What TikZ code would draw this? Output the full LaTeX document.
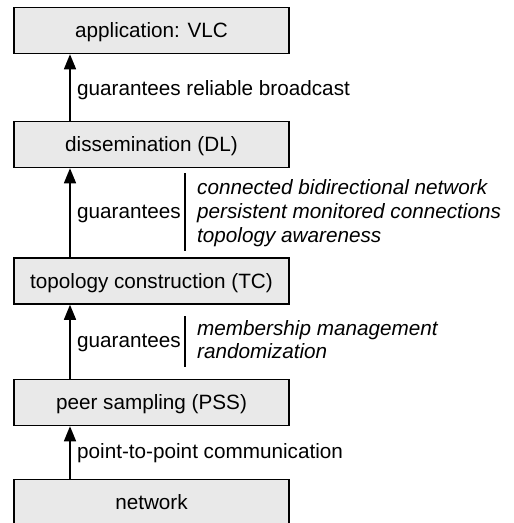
\documentclass[tikz,border=0pt]{standalone}
\usepackage{fontspec}
\setmainfont{Liberation Sans}
\usetikzlibrary{arrows.meta}
\definecolor{boxfill}{RGB}{233,233,233}
\tikzset{
  layer/.style={draw=black, line width=1.5pt, fill=boxfill, minimum width=275pt, minimum height=46pt, inner sep=0pt, text height=14.8pt, text depth=0pt, font=\fontsize{20.7}{24}\selectfont},
  lbl/.style={anchor=base west, inner sep=0pt, font=\fontsize{20.7}{24}\selectfont},
  ilbl/.style={anchor=base west, inner sep=0pt, font=\fontsize{20.7}{24}\selectfont\itshape},
  up/.style={line width=1.5pt, -{Triangle[length=15pt,width=12pt]}},
  sep/.style={line width=1.5pt}
}
\begin{document}
\begin{tikzpicture}[x=1pt,y=-1pt]
\useasboundingbox (0,0) rectangle (514,523);
\node[layer] (app) at (151.5,30.5) {application: VLC};
\node[layer] (dl) at (151.5,144.5) {dissemination (DL)};
\node[layer] (tc) at (151.5,281) {topology construction (TC)};
\node[layer] (pss) at (151.5,402.5) {peer sampling (PSS)};
\node[layer] (net) at (151.5,502.5) {network};

\draw[up] (dl.north -| 70,0) -- (app.south -| 70,0);
\draw[up] (tc.north -| 70,0) -- (dl.south -| 70,0);
\draw[up] (pss.north -| 70,0) -- (tc.south -| 70,0);
\draw[up] (net.north -| 70,0) -- (pss.south -| 70,0);

\node[lbl] (l1) at (77,95.5) {guarantees reliable broadcast};

\node[lbl] (g1) at (77,218) {guarantees};
\coordinate (s1a) at (185,173);
\coordinate (s1b) at (185,251);
\draw[sep] (s1a) -- (s1b);
\node[ilbl] (i1) at (197,194) {connected bidirectional network};
\node[ilbl] (i2) at (197,218) {persistent monitored connections};
\node[ilbl] (i3) at (197,242) {topology awareness};

\node[lbl] (g2) at (77,347) {guarantees};
\coordinate (s2a) at (185,316);
\coordinate (s2b) at (185,367);
\draw[sep] (s2a) -- (s2b);
\node[ilbl] (i4) at (197,335.5) {membership management};
\node[ilbl] (i5) at (197,358.5) {randomization};

\node[lbl] (l4) at (77,458) {point-to-point communication};
\end{tikzpicture}
\end{document}
